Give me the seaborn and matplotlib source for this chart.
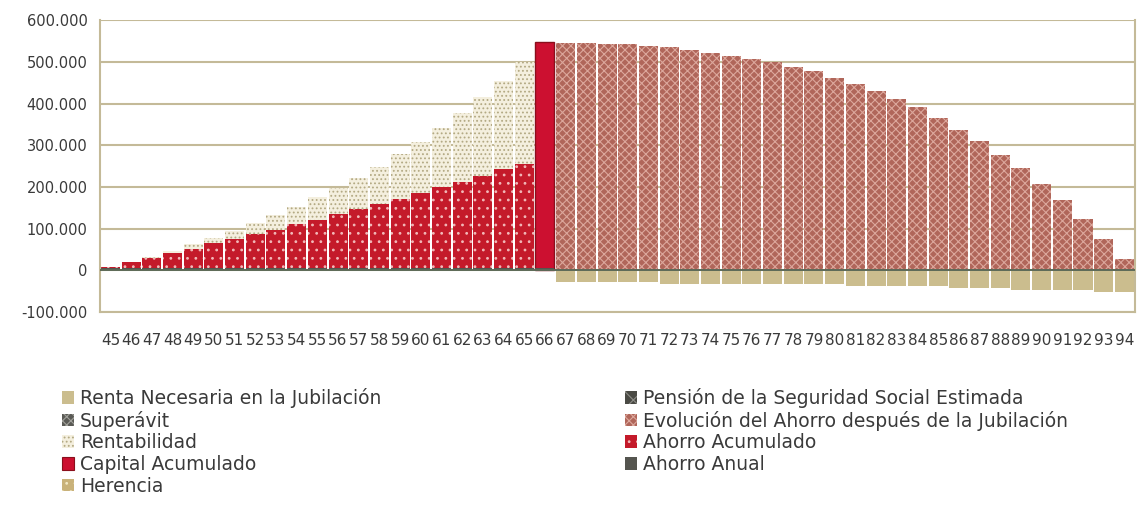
import matplotlib
matplotlib.use('Agg')
import matplotlib.pyplot as plt
import matplotlib.patches as mpatches
from matplotlib.ticker import FuncFormatter
import pandas as pd
import seaborn as sns

# Datos (euros)
edades = [45, 46, 47, 48, 49, 50, 51, 52, 53, 54, 55, 56, 57, 58, 59, 60, 61, 62, 63, 64,
          65, 66, 67, 68, 69, 70, 71, 72, 73, 74, 75, 76, 77, 78, 79, 80, 81, 82, 83, 84,
          85, 86, 87, 88, 89, 90, 91, 92, 93, 94]

edades_ahorro = [45, 46, 47, 48, 49, 50, 51, 52, 53, 54, 55, 56, 57, 58, 59, 60, 61, 62, 63, 64, 65]
ahorro_anual = [6000, 6000, 6000, 6000, 6000, 6000, 6000, 6000, 6000, 6000, 6000,
                6000, 6000, 6000, 6000, 6000, 6000, 6000, 6000, 6000, 6000]
ahorro_acumulado = [2000, 14000, 24000, 35000, 45000, 59000, 70000, 80000, 91000, 104000, 114000,
                    128000, 142000, 152000, 166000, 180000, 193000, 207000, 221000, 236000, 250000]
rentabilidad = [0, 0, 3000, 6000, 12000, 13000, 18000, 28000, 35000, 43000, 55000,
                64000, 74000, 91000, 106000, 121000, 143000, 165000, 189000, 213000, 244000]

edad_capital = [66]
anual_capital = [6000]
capital_acumulado = [542000]

edades_jubilacion = [67, 68, 69, 70, 71, 72, 73, 74, 75, 76, 77, 78, 79, 80, 81, 82, 83, 84,
                     85, 86, 87, 88, 89, 90, 91, 92, 93, 94]
evolucion_ahorro = [546000, 546000, 543000, 543000, 539000, 535000, 529000, 522000, 515000,
                    507000, 499000, 487000, 477000, 462000, 447000, 429000, 411000, 391000,
                    365000, 337000, 309000, 277000, 246000, 208000, 168000, 124000, 74000, 26000]
renta_necesaria = [-29000, -29000, -29000, -29000, -29000, -32000, -32000, -32000, -32000,
                   -32000, -34000, -34000, -34000, -34000, -38000, -38000, -38000, -38000,
                   -38000, -43000, -43000, -43000, -47000, -47000, -47000, -47000, -51000, -51000]

# Colores
c_rojo = '#c41a2a'
c_capital = '#cc1030'
c_evol = '#b0665a'
c_renta = '#cbbd8e'
c_rent = '#f4efde'
c_anual = '#55554f'
c_grid = '#c4ba98'
c_texto = '#3a3a3a'

sns.set_style('white')
plt.rcParams['font.family'] = ['DejaVu Sans']
plt.rcParams['hatch.linewidth'] = 0.8

fig, ax = plt.subplots(figsize=(11.37, 5.17), dpi=100)
fig.subplots_adjust(left=0.088, right=0.998, top=0.961, bottom=0.3965)

orden = [str(e) for e in edades]


def barras(edades_serie, valores, **kw):
    df = pd.DataFrame({'edad': [str(e) for e in edades_serie], 'valor': valores})
    sns.barplot(data=df, x='edad', y='valor', order=orden, ax=ax, width=0.92,
                saturation=1, errorbar=None, **kw)


# Barras apiladas antes de la jubilacion (se dibuja primero el total)
tope_ahorro = [a + b for a, b in zip(ahorro_anual, ahorro_acumulado)]
tope_total = [t + r for t, r in zip(tope_ahorro, rentabilidad)]
barras(edades_ahorro, tope_total, color=c_rent, hatch='....', edgecolor='#b3a983', linewidth=0)
barras(edades_ahorro, tope_ahorro, color=c_rojo, hatch='..', edgecolor='#f2b8b8', linewidth=0)
barras(edades_ahorro, ahorro_anual, color=c_anual, linewidth=0)

# Capital acumulado a los 66
tope_capital = [a + c for a, c in zip(anual_capital, capital_acumulado)]
barras(edad_capital, tope_capital, color=c_capital, edgecolor='#8a0f1c', linewidth=1)
barras(edad_capital, anual_capital, color=c_anual, linewidth=0)

# Despues de la jubilacion
barras(edades_jubilacion, evolucion_ahorro, color=c_evol, hatch='xxxx', edgecolor='#dca79c', linewidth=0)
barras(edades_jubilacion, renta_necesaria, color=c_renta, linewidth=0)

ax.axhline(0, color='#5d6a58', lw=1.4, zorder=5)

ax.set_ylim(-100000, 600000)
ax.set_yticks([-100000, 0, 100000, 200000, 300000, 400000, 500000, 600000])
ax.yaxis.set_major_formatter(FuncFormatter(lambda v, p: f'{int(v):,}'.replace(',', '.')))
ax.set_axisbelow(True)
ax.yaxis.grid(True, color=c_grid, lw=1.5)
ax.set_xlabel('')
ax.set_ylabel('')
for lado in ['left', 'right', 'bottom']:
    ax.spines[lado].set_color(c_grid)
    ax.spines[lado].set_linewidth(1.5)
ax.spines['top'].set_visible(False)
ax.tick_params(axis='x', length=0, pad=15, labelsize=11, labelcolor=c_texto)
ax.tick_params(axis='y', length=0, pad=9, labelsize=10.5, labelcolor=c_texto)

# Leyenda en dos columnas
col1 = [
    mpatches.Patch(facecolor=c_renta, linewidth=0, label='Renta Necesaria en la Jubilación'),
    mpatches.Patch(facecolor='#5a5a55', hatch='xxxx', edgecolor='#a0a09a', linewidth=0, label='Superávit'),
    mpatches.Patch(facecolor=c_rent, hatch='....', edgecolor='#b3a983', linewidth=0, label='Rentabilidad'),
    mpatches.Patch(facecolor=c_capital, edgecolor='#8a0f1c', linewidth=0.8, label='Capital Acumulado'),
    mpatches.Patch(facecolor='#c9b27a', hatch='..', edgecolor='#f2e8c4', linewidth=0, label='Herencia'),
]
col2 = [
    mpatches.Patch(facecolor='#4a4a44', hatch='xx', edgecolor='#8c8c86', linewidth=0, label='Pensión de la Seguridad Social Estimada'),
    mpatches.Patch(facecolor=c_evol, hatch='xxxx', edgecolor='#dca79c', linewidth=0, label='Evolución del Ahorro después de la Jubilación'),
    mpatches.Patch(facecolor=c_rojo, hatch='..', edgecolor='#f2b8b8', linewidth=0, label='Ahorro Acumulado'),
    mpatches.Patch(facecolor=c_anual, linewidth=0, label='Ahorro Anual'),
]
for handles, x0 in [(col1, 0.0545), (col2, 0.5497)]:
    leg = fig.legend(handles=handles, loc='upper left', bbox_to_anchor=(x0, 0.2495),
                     frameon=False, fontsize=13.5, handlelength=0.65, handleheight=0.65,
                     handletextpad=0.3, labelspacing=0.14, borderpad=0, borderaxespad=0)
    for t in leg.get_texts():
        t.set_color(c_texto)

fig.savefig('out.png', dpi=100)
